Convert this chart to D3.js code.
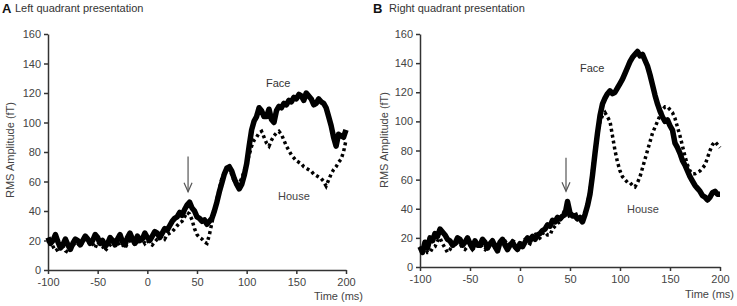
<!DOCTYPE html>
<html lang="en">
<head>
  <meta charset="UTF-8">
  <title>Face vs House RMS amplitude</title>
  <script src="https://d3js.org/d3.v7.min.js"></script>
  <style>
    body {
      margin: 0;
      padding: 0;
      background: #fff;
      font-family: "Liberation Sans", Arial, sans-serif;
    }
    .tick text { fill: #444; font-size: 11px; }
    .domain, .tick line { stroke: #333; }
  </style>
</head>
<body>
  <svg id="chart" width="737" height="306"></svg>

  <script>
    // sample grid: -100 .. 200 ms every 2.5 ms (rows below = 50 ms each)
    const times = d3.range(-100, 200.1, 2.5);

    // panel A - left quadrant
    const leftFace = [
      22, 18, 20, 24, 19, 15, 17, 21, 17, 14, 18, 21, 20, 17, 20, 23, 21, 18, 20, 24,
      22, 18, 20, 16, 18, 22, 20, 17, 21, 24, 19, 17, 22, 25, 21, 18, 23, 20, 21, 25,
      22, 20, 23, 26, 25, 22, 25, 28, 27, 30, 33, 35, 36, 39, 37, 41, 44, 46, 42, 40,
      36, 35, 33, 34, 31, 33, 35, 40, 46, 53, 59, 65, 69, 70, 67, 62, 58, 55, 58, 64,
      72, 84, 95, 101, 104, 110, 108, 104, 104, 109, 102, 100, 108, 111, 110, 113, 112, 115, 114, 117,
      116, 119, 118, 115, 120, 118, 116, 112, 113, 116, 114, 113, 110, 104, 98, 90, 84, 92, 91, 90,
      95];
    const leftHouse = [
      18, 21, 16, 13, 14, 18, 16, 13, 12, 15, 16, 19, 18, 16, 19, 21, 20, 17, 18, 15,
      19, 17, 16, 13, 15, 17, 18, 20, 19, 16, 17, 15, 18, 20, 20, 17, 19, 22, 21, 18,
      20, 18, 17, 19, 21, 22, 23, 21, 24, 25, 26, 28, 30, 32, 33, 36, 39, 38, 34, 28,
      24, 22, 21, 19, 18, 24, 32, 40, 48, 55, 62, 66, 68, 67, 65, 60, 58, 59, 62, 67,
      72, 78, 84, 88, 90, 93, 94, 90, 86, 84, 88, 91, 93, 94, 92, 88, 84, 81, 78, 76,
      74, 73, 72, 70, 69, 68, 67, 65, 64, 63, 62, 60, 57, 61, 65, 68, 70, 73, 75, 80,
      88];

    // panel B - right quadrant
    const rightFace = [
      14, 10, 17, 13, 20, 18, 23, 21, 26, 24, 22, 19, 18, 15, 16, 20, 19, 15, 17, 20,
      16, 13, 18, 15, 15, 19, 17, 13, 16, 18, 14, 11, 17, 19, 15, 12, 15, 17, 14, 12,
      16, 14, 17, 20, 18, 21, 19, 22, 23, 25, 26, 29, 28, 32, 31, 34, 33, 35, 36, 45,
      37, 35, 35, 33, 34, 31, 36, 42, 50, 63, 78, 92, 104, 112, 116, 119, 121, 119, 120, 123,
      126, 129, 133, 137, 141, 144, 146, 148, 145, 146, 142, 138, 132, 125, 118, 112, 107, 103, 100, 101,
      97, 94, 85, 82, 78, 73, 70, 66, 62, 59, 56, 54, 52, 49, 48, 46, 48, 51, 52, 50,
      50];
    const rightHouse = [
      12, 15, 14, 10, 10, 13, 14, 18, 20, 16, 13, 10, 12, 15, 14, 17, 16, 13, 12, 14,
      15, 12, 14, 16, 16, 13, 12, 15, 15, 17, 14, 16, 17, 19, 18, 15, 16, 18, 17, 14,
      15, 18, 19, 17, 16, 20, 22, 19, 20, 23, 24, 22, 22, 26, 28, 30, 31, 35, 40, 37,
      34, 36, 38, 34, 30, 32, 36, 44, 52, 66, 80, 92, 100, 104, 106, 103, 100, 90, 80, 72,
      66, 62, 60, 58, 58, 56, 55, 58, 62, 68, 74, 80, 86, 92, 96, 100, 104, 108, 110, 110,
      108, 106, 102, 96, 90, 83, 76, 70, 66, 64, 64, 65, 66, 68, 70, 75, 80, 84, 86, 84,
      82];

    const xTicks = [-100, -50, 0, 50, 100, 150, 200];
    const yTicks = [0, 20, 40, 60, 80, 100, 120, 140, 160];

    const panels = [
      {
        letter: "A", title: "Left quadrant presentation",
        face: leftFace, house: leftHouse,
        x0: 48, x1: 346, yTop: 34, yBottom: 270,
        letterX: 2, titleX: 15,
        yLabelX: 14, yLabelY: 150,
        timeX: 363, timeY: 300,
        faceLbl: [266, 87], houseLbl: [278, 200],
        arrowT: 41, arrowFrom: 77, arrowTo: 53
      },
      {
        letter: "B", title: "Right quadrant presentation",
        face: rightFace, house: rightHouse,
        x0: 420, x1: 720, yTop: 34, yBottom: 267,
        letterX: 373, titleX: 389,
        yLabelX: 388, yLabelY: 140,
        timeX: 734, timeY: 298,
        faceLbl: [580, 72], houseLbl: [627, 213],
        arrowT: 46, arrowFrom: 75, arrowTo: 52
      }
    ];

    const svg = d3.select("#chart");

    panels.forEach(p => {
      const x = d3.scaleLinear().domain([-100, 200]).range([p.x0, p.x1]);
      const y = d3.scaleLinear().domain([0, 160]).range([p.yBottom, p.yTop]);
      const g = svg.append("g");

      // title
      g.append("text")
        .attr("x", p.letterX).attr("y", 13)
        .attr("font-size", 13).attr("font-weight", "bold").attr("fill", "#111")
        .text(p.letter);
      g.append("text")
        .attr("x", p.titleX).attr("y", 12)
        .attr("font-size", 11).attr("fill", "#333")
        .text(p.title);

      // axes (plain hyphen for negatives, like the original)
      g.append("g")
        .attr("transform", `translate(0,${p.yBottom})`)
        .call(d3.axisBottom(x).tickValues(xTicks).tickFormat(d => String(d))
          .tickSize(4).tickSizeOuter(0).tickPadding(4))
        .call(a => a.selectAll(".domain, .tick line").attr("stroke-width", 1.5));
      g.append("g")
        .attr("transform", `translate(${p.x0},0)`)
        .call(d3.axisLeft(y).tickValues(yTicks).tickSize(4).tickSizeOuter(0).tickPadding(3))
        .call(a => a.selectAll(".domain, .tick line").attr("stroke-width", 1.5));

      g.append("text")
        .attr("transform", `translate(${p.yLabelX},${p.yLabelY}) rotate(-90)`)
        .attr("text-anchor", "middle")
        .attr("font-size", 11).attr("fill", "#444")
        .text("RMS Amplitude (fT)");
      g.append("text")
        .attr("x", p.timeX).attr("y", p.timeY)
        .attr("text-anchor", "end")
        .attr("font-size", 11).attr("fill", "#444")
        .text("Time (ms)");

      const line = d3.line()
        .x((d, i) => x(times[i]))
        .y(d => y(d));

      g.append("path")
        .datum(p.house)
        .attr("d", line)
        .attr("fill", "none")
        .attr("stroke", "#000")
        .attr("stroke-width", 3.5)
        .attr("stroke-dasharray", "3,3");

      g.append("path")
        .datum(p.face)
        .attr("d", line)
        .attr("fill", "none")
        .attr("stroke", "#000")
        .attr("stroke-width", 5.5)
        .attr("stroke-linejoin", "round");

      g.append("text")
        .attr("x", p.faceLbl[0]).attr("y", p.faceLbl[1])
        .attr("font-size", 11).attr("fill", "#333")
        .text("Face");
      g.append("text")
        .attr("x", p.houseLbl[0]).attr("y", p.houseLbl[1])
        .attr("font-size", 11).attr("fill", "#444")
        .text("House");

      // arrow marking the early peak
      const ax = x(p.arrowT), ay0 = y(p.arrowFrom), ay1 = y(p.arrowTo);
      g.append("line")
        .attr("x1", ax).attr("x2", ax).attr("y1", ay0).attr("y2", ay1)
        .attr("stroke", "#555").attr("stroke-width", 1.2);
      g.append("path")
        .attr("d", `M${ax - 4},${ay1 - 9}L${ax},${ay1}L${ax + 4},${ay1 - 9}`)
        .attr("fill", "none").attr("stroke", "#555").attr("stroke-width", 1.2);
    });
  </script>
</body>
</html>
